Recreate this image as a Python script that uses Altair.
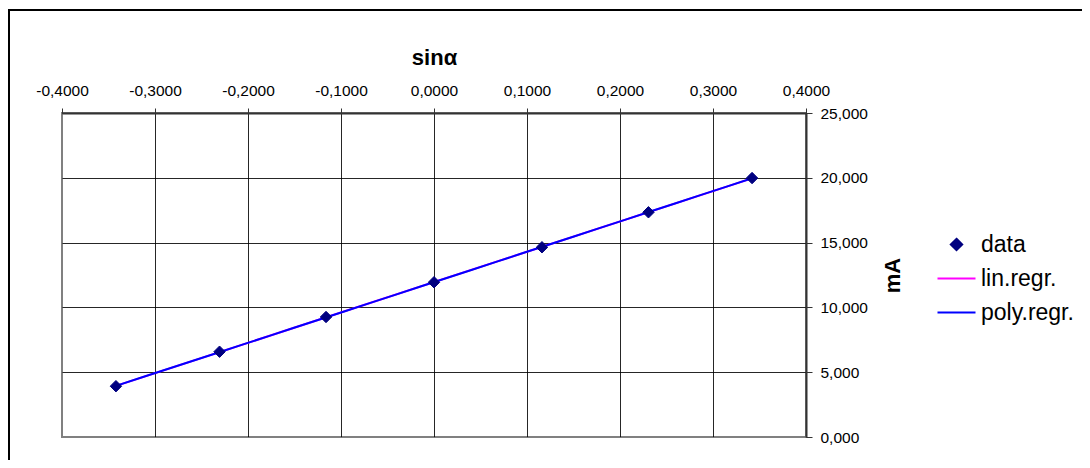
import altair as alt
import pandas as pd

# values
sin_a = [-0.3420, -0.2306, -0.1161, 0.0, 0.1161, 0.2306, 0.3420]
m_a = [3.92, 6.58, 9.26, 11.94, 14.64, 17.34, 19.98]

series_names = ["data", "lin.regr.", "poly.regr."]
series_colors = ["#000080", "#FF00FF", "#0000FF"]
series_shapes = ["M0,-0.6L0.6,0L0,0.6L-0.6,0Z", "M-2,0L2,0", "M-2,0L2,0"]

x_ticks = [-0.4, -0.3, -0.2, -0.1, 0.0, 0.1, 0.2, 0.3, 0.4]
y_ticks = [0, 5, 10, 15, 20, 25]

df = pd.DataFrame({"sin": sin_a, "mA": m_a, "series": ["data"] * len(sin_a)})

FONT = "Liberation Sans"

x_enc = alt.X(
    "sin:Q",
    scale=alt.Scale(domain=[-0.4, 0.4], nice=False, zero=False),
    axis=alt.Axis(
        orient="top",
        values=x_ticks,
        title="sinα",
        labelExpr="replace(replace(format(datum.value, '.4f'), '.', ','), '\u2212', '-')",
        labelFontSize=15.5,
        labelPadding=10,
        labelFlush=False,
        labelOverlap=False,
        titleFontSize=22,
        titlePadding=14,
        tickSize=5,
        gridColor={"condition": {"test": "datum.value <= -0.399", "value": "#808080"}, "value": "#000000"},
    ),
)
y_enc = alt.Y(
    "mA:Q",
    scale=alt.Scale(domain=[0, 25], nice=False),
    axis=alt.Axis(
        orient="right",
        values=y_ticks,
        title="mA",
        labelExpr="replace(format(datum.value, '.3f'), '.', ',')",
        labelFontSize=15.5,
        labelAlign="left",
        labelBaseline="middle",
        labelPadding=8,
        labelFlush=False,
        titleAngle=270,
        titleFontSize=22,
        titlePadding=37,
        tickSize=6,
        gridColor={"condition": {"test": "datum.value <= 0.001", "value": "#808080"}, "value": "#000000"},
    ),
)

base = alt.Chart(df)

frame = alt.Chart(pd.DataFrame({"k": [0]})).mark_rect(
    fill="transparent", stroke="#000000", strokeWidth=2
).encode(
    x=alt.value(-53), x2=alt.value(1200), y=alt.value(-103), y2=alt.value(600)
)

lin = base.transform_regression("sin", "mA", method="linear").mark_line(
    color="#FF00FF", strokeWidth=2
).encode(x=x_enc, y=y_enc)

poly = base.transform_regression("sin", "mA", method="poly", order=2).mark_line(
    color="#0000FF", strokeWidth=2
).encode(x=x_enc, y=y_enc)

points = base.mark_point(filled=False, strokeWidth=1, size=361, opacity=1).encode(
    x=x_enc,
    y=y_enc,
    fill=alt.value("#000080"),
    color=alt.Color(
        "series:N",
        scale=alt.Scale(domain=series_names, range=series_colors),
        legend=alt.Legend(
            title=None,
            orient="none",
            legendX=883,
            legendY=120,
            padding=0,
            labelFont=FONT,
            labelFontSize=23,
            labelColor="#000000",
            labelOffset=13,
            rowPadding=10,
            symbolSize=361,
            symbolStrokeWidth=2,
            symbolFillColor="#000080",
        ),
    ),
    shape=alt.Shape(
        "series:N",
        scale=alt.Scale(domain=series_names, range=series_shapes),
    ),
)

chart = (
    alt.layer(frame, lin, poly, points)
    .properties(
        width=744,
        height=324,
        autosize=alt.AutoSizeParams(type="none"),
        padding={"left": 54, "top": 105, "right": 276, "bottom": 23},
        background="white",
    )
    .configure_view(stroke="#808080", strokeWidth=2)
    .configure_axis(
        labelFont=FONT,
        titleFont=FONT,
        labelColor="#000000",
        titleColor="#000000",
        titleFontWeight="bold",
        domainColor="#333333",
        domainWidth=2,
        tickColor="#333333",
        tickWidth=1,
        grid=True,
        gridWidth=1,
        gridOpacity=0.85,
    )
)

chart.save("out.html", embed_options={"renderer": "svg", "actions": False})
